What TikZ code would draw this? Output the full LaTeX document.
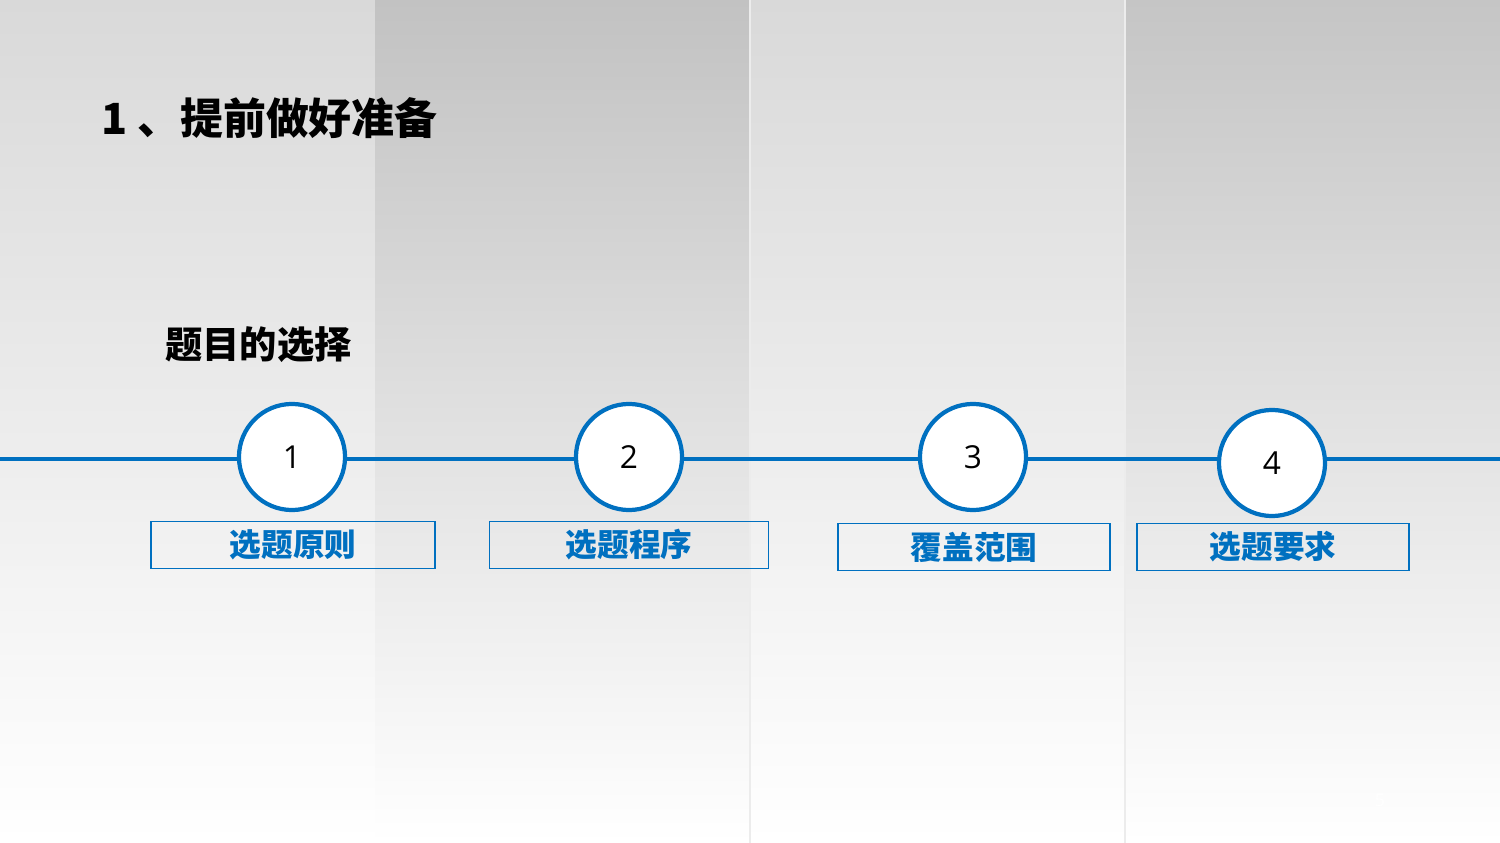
\documentclass[tikz,border=0pt]{standalone}
\usepackage{fontspec}
\newfontfamily\cjk{Noto Sans CJK SC}
\newcommand\cjkb{\cjk\bfseries}
\setmainfont{Open Sans}
\definecolor{lineblue}{HTML}{0070C0}
\definecolor{bandlight}{HTML}{D9D9D9}
\definecolor{banddark}{HTML}{C2C2C2}

\begin{document}
\begin{tikzpicture}[x=0.01cm,y=-0.01cm]

	\tikzstyle{step circ} = [circle, line width=1.2pt, draw=lineblue, fill=white, minimum size=1.06cm, inner sep=0pt, font=\fontsize{9}{9}\selectfont]
	\tikzstyle{step box}  = [rectangle, draw=lineblue, line width=0.35pt, minimum width=2.78cm, minimum height=0.47cm, inner sep=0pt, text=lineblue, font=\cjkb\fontsize{9}{9}\selectfont]

	% background bands
	\useasboundingbox (0,0) rectangle (1500,843);
	\shade [top color=bandlight, bottom color=white] (0,0) rectangle (375,843);
	\shade [top color=banddark, bottom color=white] (375,0) rectangle (750,843);
	\shade [top color=bandlight, bottom color=white] (750,0) rectangle (1125,843);
	\shade [top color=banddark!95, bottom color=white] (1125,0) rectangle (1500,843);
	\draw [white!85!gray, line width=0.3pt] (750,0) -- (750,843) (1125,0) -- (1125,843);

	% titles
	\node [anchor=west, font=\cjkb\fontsize{12.2}{12.2}\selectfont] (title) at (89,118) {1 、提前做好准备};
	\node [anchor=west, font=\cjkb\fontsize{10.6}{10.6}\selectfont] (sub) at (153,345) {题目的选择};

	% timeline
	\coordinate (left) at (0,459);
	\coordinate (right) at (1500,459);
	\draw [lineblue, line width=1.2pt] (left) -- (right);

	\node [step circ] (c1) at (292,457) {1};
	\node [step circ] (c2) at (629,457) {2};
	\node [step circ] (c3) at (973,457) {3};
	\node [step circ] (c4) at (1272,463) {4};

	\node [step box, minimum width=2.84cm] (b1) at (293,545) {选题原则};
	\node [step box, minimum width=2.79cm] (b2) at (629,545) {选题程序};
	\node [step box, minimum width=2.72cm] (b3) at (974,547) {覆盖范围};
	\node [step box, minimum width=2.72cm] (b4) at (1273,547) {选题要求};

	\node [white, font=\fontsize{5}{5}\selectfont] (page) at (1380,800) {5};
\end{tikzpicture}
\end{document}
